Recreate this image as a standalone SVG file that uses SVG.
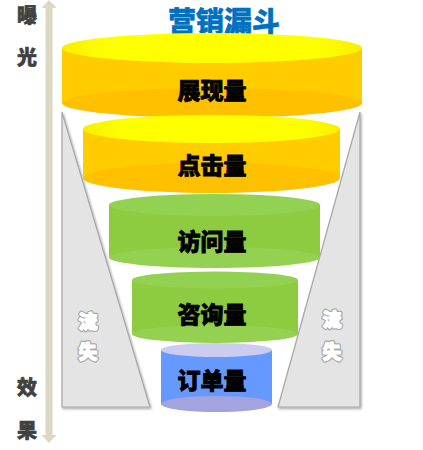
<svg xmlns="http://www.w3.org/2000/svg" width="423" height="450" viewBox="0 0 423 450">
<defs>
<style>
.cjk{font-family:"Noto Sans CJK SC","Noto Sans",sans-serif;font-weight:900;text-anchor:middle;dominant-baseline:central}
.lbl{font-size:23px;fill:#000;stroke:#000;stroke-width:0.8px}
.axis{font-size:20px;fill:#404040;stroke:#404040;stroke-width:0.6px}
.lossbg{font-size:19px;fill:#a8a8a8;stroke:#a8a8a8;stroke-width:3.6px;stroke-linejoin:round}
.loss{font-size:19px;fill:#fff;stroke:#fff;stroke-width:1.2px;stroke-linejoin:round}
.tri{fill:#e4e4e4;stroke:#a6a6a6;stroke-width:1.2}
</style>
<filter id="sh" x="-20%" y="-20%" width="140%" height="140%">
<feDropShadow dx="1" dy="1.5" stdDeviation="1.2" flood-color="#000" flood-opacity="0.35"/>
</filter>
<linearGradient id="ytop" x1="0" y1="0" x2="1" y2="0">
<stop offset="0" stop-color="#f6f000"/><stop offset="0.15" stop-color="#ffff00"/><stop offset="0.85" stop-color="#ffff00"/><stop offset="1" stop-color="#f6f000"/>
</linearGradient>
</defs>

<g id="axis">
<rect x="45.5" y="6" width="7" height="430" fill="#ddd8c3"/>
<polygon points="49,0 56.5,8 41.5,8" fill="#ddd8c3"/>
<polygon points="49,443 56.5,435 41.5,435" fill="#ddd8c3"/>
<text class="cjk axis" x="27" y="14">曝</text>
<text class="cjk axis" x="27" y="56">光</text>
<text class="cjk axis" x="27" y="386">效</text>
<text class="cjk axis" x="27" y="429">果</text>
</g>

<text id="title" class="cjk" x="224" y="20" style="font-size:28px;fill:#0070c0;stroke:#0070c0;stroke-width:0.5px">营销漏斗</text>

<g id="loss-left">
<polygon class="tri" filter="url(#sh)" points="62,112 150,407 62,407"/>
<text class="cjk lossbg" x="88" y="320">流</text>
<text class="cjk lossbg" x="88" y="350">失</text>
<text class="cjk loss" x="88" y="320">流</text>
<text class="cjk loss" x="88" y="350">失</text>
</g>
<g id="loss-right">
<polygon class="tri" filter="url(#sh)" points="360,112 360,407 278,407"/>
<text class="cjk lossbg" x="332" y="318">流</text>
<text class="cjk lossbg" x="332" y="350">失</text>
<text class="cjk loss" x="332" y="318">流</text>
<text class="cjk loss" x="332" y="350">失</text>
</g>

<g id="n1">
<rect x="62" y="48" width="300" height="55" fill="#ffcc00"/>
<ellipse cx="212" cy="103" rx="150" ry="15" fill="#ffc000"/>
<ellipse cx="212" cy="48" rx="150" ry="15" fill="url(#ytop)"/>
<text class="cjk lbl" x="212" y="89">展现量</text>
</g>
<g id="n2">
<rect x="83" y="129" width="257" height="49" fill="#ffcc00"/>
<ellipse cx="211.5" cy="178" rx="128.5" ry="15" fill="#ffc000"/>
<ellipse cx="211.5" cy="129" rx="128.5" ry="14" fill="url(#ytop)"/>
<text class="cjk lbl" x="212" y="164">点击量</text>
</g>
<g id="n3">
<rect x="109" y="205" width="211" height="52.5" fill="#8dcb41"/>
<ellipse cx="214.5" cy="257.5" rx="105.5" ry="10.5" fill="#95d150"/>
<ellipse cx="214.5" cy="205" rx="105.5" ry="11" fill="#93d152"/>
<text class="cjk lbl" x="212" y="240">访问量</text>
</g>
<g id="n4">
<rect x="132" y="280" width="166" height="54" fill="#8dcb41"/>
<ellipse cx="215" cy="334" rx="83" ry="9" fill="#95d150"/>
<ellipse cx="215" cy="280" rx="83" ry="8.5" fill="#93d152"/>
<text class="cjk lbl" x="212" y="313">咨询量</text>
</g>
<g id="n5">
<rect x="161" y="350" width="111" height="54" fill="#6699ff"/>
<ellipse cx="216.5" cy="404" rx="55.5" ry="8" fill="#a3a3e0"/>
<ellipse cx="216.5" cy="350" rx="55.5" ry="7" fill="#ccccee"/>
<text class="cjk lbl" x="212" y="379">订单量</text>
</g>
</svg>
